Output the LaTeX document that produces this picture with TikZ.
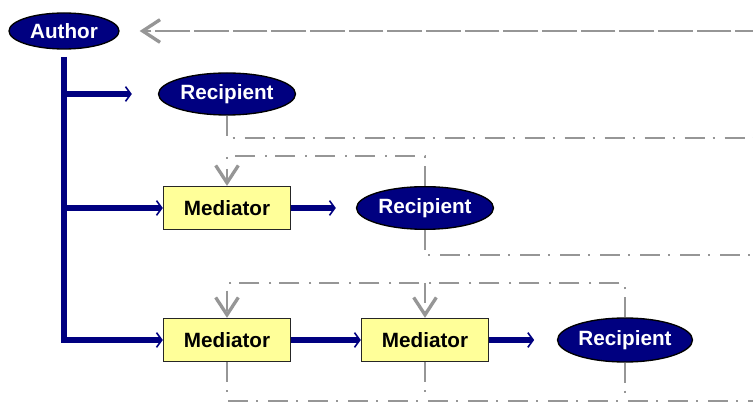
\documentclass[tikz,border=0pt]{standalone}
\usepackage{fontspec}
\setmainfont{Liberation Sans}
\usetikzlibrary{arrows.meta,shapes.geometric}
\definecolor{navy}{RGB}{0,0,128}
\definecolor{paleyellow}{RGB}{255,255,153}
\definecolor{lgray}{RGB}{150,150,150}
\begin{document}
\begin{tikzpicture}[x=0.75pt,y=-0.75pt,
  lbl/.style={font=\fontsize{15.5}{18}\selectfont\bfseries},
  oval/.style={lbl,ellipse, draw=black, line width=1pt, fill=navy, text=white, inner sep=0pt},
  medbox/.style={lbl,rectangle, draw=black!85, line width=1pt, fill=paleyellow, minimum width=95.25pt, minimum height=32.25pt, inner sep=0pt},
  flow/.style={draw=navy, line width=4pt, line join=miter, -{Straight Barb[length=4pt,width=11pt,line width=1.2pt]}},
  dashdot/.style={draw=lgray, line width=1.5pt, dash pattern=on 15pt off 6pt on 1.5pt off 7.5pt},
  dashline/.style={draw=lgray, line width=1.5pt, dash pattern=on 26pt off 3pt},
  vtip/.style={-{Straight Barb[length=13pt,width=17pt,line width=2.5pt]}}
]
\useasboundingbox (0,0) rectangle (753,402);
\clip (0,0) rectangle (753,402);

\node[oval, minimum width=82.5pt, minimum height=27pt] (author) at (64,31) {Author};
\node[oval, minimum width=102.75pt, minimum height=31.5pt] (rec1) at (227,94) {Recipient};
\node[medbox] (med1) at (227,208) {Mediator};
\node[oval, minimum width=102.75pt, minimum height=32pt] (rec2) at (425,208) {Recipient};
\node[medbox] (med2) at (227,340) {Mediator};
\node[medbox] (med3) at (425,340) {Mediator};
\node[oval, minimum width=101.25pt, minimum height=33pt] (rec3) at (625,340) {Recipient};

\coordinate (tTop) at (64,57);
\coordinate (tCorner) at (64,340);
\coordinate (b1) at (62,94);
\coordinate (b2) at (62,208);
\coordinate (farA) at (770,31);
\coordinate (h1) at (0,138);
\coordinate (h2) at (0,255);
\coordinate (h3) at (0,283);
\coordinate (h4) at (0,401);
\coordinate (far1) at (770,138);
\coordinate (far2) at (770,255);
\coordinate (far4) at (770,401);

% returning dashed line to author
\draw[dashline, vtip, shorten >=15pt] (farA) -- (author.east);

% blue flow
\draw[flow] (tTop) -- (tCorner) -- (med2.west);
\draw[flow, shorten >=19.5pt] (b1) -- (rec1.west);
\draw[flow] (b2) -- (med1.west);
\draw[flow, shorten >=15pt] (med1.east) -- (rec2.west);
\draw[flow] (med2.east) -- (med3.west);
\draw[flow, shorten >=17pt] (med3.east) -- (rec3.west);

% dash-dot feedback lines
\draw[dashdot] (rec1.south) -- (rec1.south |- h1) -- (far1);
\draw[dashdot, vtip] (rec2.north) -- ++(0,-29.5) -| (med1.north);
\draw[dashdot] (rec2.south) -- (rec2.south |- h2) -- (far2);
\draw[dashdot, vtip] (rec3.north) -- (rec3.north |- h3) -| (med2.north);
\draw[dashdot, vtip] (med3.north |- h3) -- (med3.north);
\draw[dashdot] (med2.south) -- (med2.south |- h4) -- (far4);
\draw[dashdot] (med3.south) -- (med3.south |- h4);
\draw[dashdot] (rec3.south) -- (rec3.south |- h4);
\end{tikzpicture}
\end{document}
